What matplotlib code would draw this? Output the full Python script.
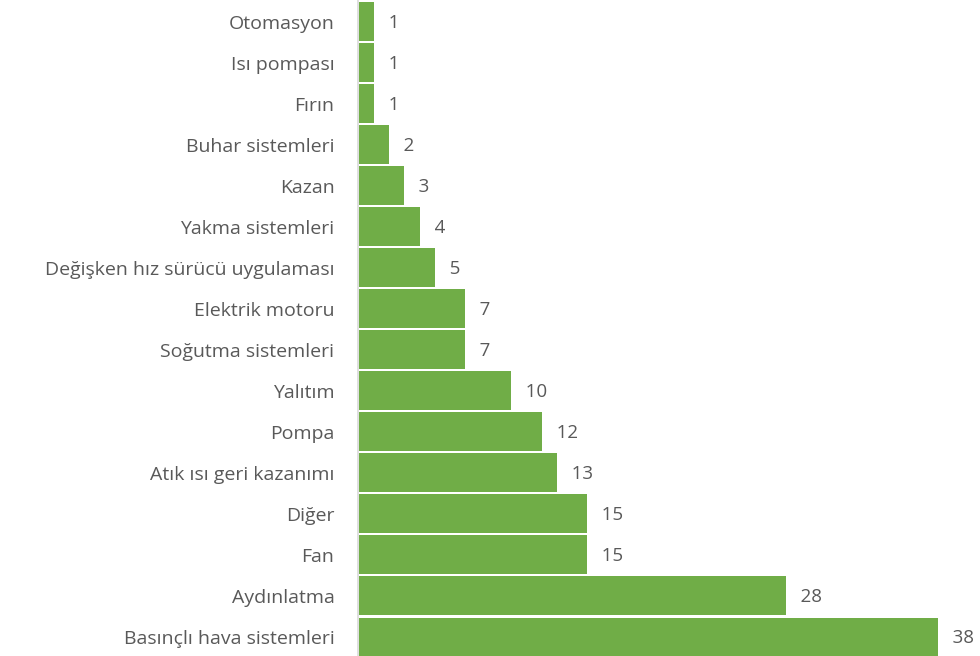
import matplotlib.pyplot as plt

categories = ['Basınçlı hava sistemleri', 'Aydınlatma', 'Fan', 'Diğer',
              'Atık ısı geri kazanımı', 'Pompa', 'Yalıtım', 'Soğutma sistemleri',
              'Elektrik motoru', 'Değişken hız sürücü uygulaması', 'Yakma sistemleri',
              'Kazan', 'Buhar sistemleri', 'Fırın', 'Isı pompası', 'Otomasyon']
values = [38, 28, 15, 15, 13, 12, 10, 7, 7, 5, 4, 3, 2, 1, 1, 1]

plt.rcParams['font.family'] = ['Open Sans', 'DejaVu Sans']

fig = plt.figure(figsize=(9.8, 6.56), dpi=100)
ax = fig.add_axes([358 / 980, 0, 1 - 358 / 980, 1])

pos = range(len(categories))
ax.barh(pos, values, height=0.95, color='#70AD47', left=0.05)

# value labels to the right of each bar
for y, v in zip(pos, values):
    ax.text(v + 0.05, y - 0.03, f'   {v}', va='center', ha='left', fontsize=13.5, color='#595959')

ax.set_yticks(list(pos))
ax.set_yticklabels(categories, fontsize=14, color='#595959')
ax.tick_params(axis='y', length=0, pad=17)
ax.set_xticks([])
ax.set_ylim(-0.463, 15.524)
ax.set_xlim(0, 40.8)
for s in ['top', 'right', 'bottom']:
    ax.spines[s].set_visible(False)
ax.spines['left'].set_color('#d9d9d9')
ax.spines['left'].set_linewidth(1.2)

fig.savefig('out.png', dpi=100)
